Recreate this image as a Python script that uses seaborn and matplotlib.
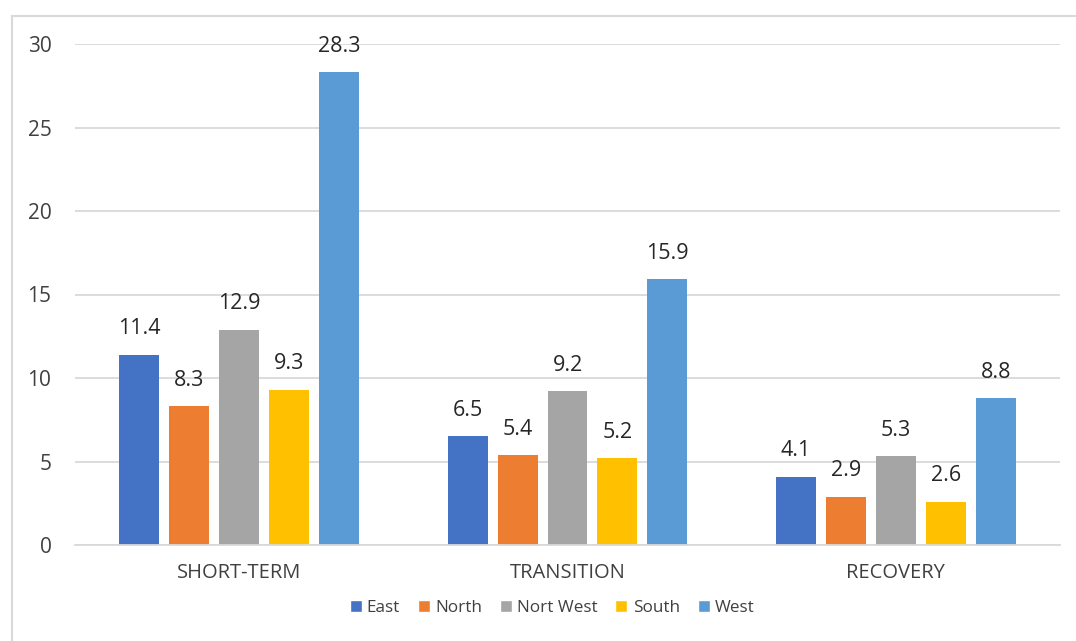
import matplotlib
matplotlib.use("Agg")
import matplotlib.pyplot as plt
from matplotlib.patches import Rectangle, Patch
import seaborn as sns
import pandas as pd

phases = ["SHORT-TERM", "TRANSITION", "RECOVERY"]
regions = ["East", "North", "Nort West", "South", "West"]
east = [11.4, 6.5, 4.1]
north = [8.3, 5.4, 2.9]
nort_west = [12.9, 9.2, 5.3]
south = [9.3, 5.2, 2.6]
west = [28.3, 15.9, 8.8]
colors = ["#4472C4", "#ED7D31", "#A5A5A5", "#FFC000", "#5B9BD5"]

series = [east, north, nort_west, south, west]
df = pd.DataFrame(
    [(p, r, v[i]) for r, v in zip(regions, series) for i, p in enumerate(phases)],
    columns=["phase", "region", "value"],
)

sns.set_theme(style="white")
plt.rcParams["font.family"] = ["Open Sans", "DejaVu Sans"]

W, H = 1076, 641
fig = plt.figure(figsize=(W / 100, H / 100), dpi=100)
fig.patch.set_facecolor("white")

# chart-area frame
fig.patches.append(Rectangle((12 / W, -0.2), 1.2, 1.2 - 16 / H, transform=fig.transFigure,
                             fill=False, edgecolor="#D9D9D9", linewidth=1.5))

ax = fig.add_axes([75 / W, (H - 545) / H, (1060 - 75) / W, (545 - 44) / H])
sns.barplot(data=df, x="phase", y="value", hue="region", order=phases,
            hue_order=regions, palette=colors, width=0.76, gap=0.2,
            saturation=1, ax=ax, legend=False, errorbar=None, linewidth=0)

ax.set_ylim(0, 30)
ax.set_xlim(-0.5, 2.5)
ax.set_yticks(range(0, 31, 5))
ax.yaxis.grid(True, color="#D9D9D9", linewidth=1.3)
ax.set_axisbelow(True)
for s in ["top", "right", "left"]:
    ax.spines[s].set_visible(False)
ax.spines["bottom"].set_color("#D9D9D9")
ax.spines["bottom"].set_linewidth(1.3)
ax.set_xlabel("")
ax.set_ylabel("")
ax.tick_params(axis="y", length=0, pad=17, labelsize=15, labelcolor="#404040")
ax.tick_params(axis="x", length=0, pad=13, labelsize=14.5, labelcolor="#404040")

for container in ax.containers:
    ax.bar_label(container, fmt="%.1f", padding=11, fontsize=15.5, color="#262626")

handles = [Patch(facecolor=c, label=r) for r, c in zip(regions, colors)]
fig.legend(handles=handles, loc="center", bbox_to_anchor=(552 / W, 1 - 608 / H),
           ncol=5, frameon=False, fontsize=12.3, handlelength=0.7, handleheight=0.7,
           handletextpad=0.3, columnspacing=1.05, labelcolor="#404040")

fig.savefig("out.png", dpi=100)
